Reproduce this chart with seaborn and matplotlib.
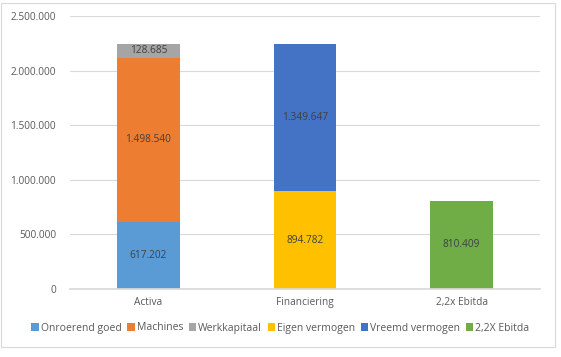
import matplotlib
matplotlib.use("Agg")
import matplotlib.pyplot as plt
import seaborn as sns
import numpy as np
import pandas as pd

categories = ["Activa", "Financiering", "2,2x Ebitda"]
series_names = ["Onroerend goed", "Machines", "Werkkapitaal", "Eigen vermogen", "Vreemd vermogen", "2,2X Ebitda"]
onroerend_goed = [617202, 0, 0]
machines = [1498540, 0, 0]
werkkapitaal = [128685, 0, 0]
eigen_vermogen = [0, 894782, 0]
vreemd_vermogen = [0, 1349647, 0]
ebitda = [0, 0, 810409]
colors = ["#5B9BD5", "#ED7D31", "#A5A5A5", "#FFC000", "#4472C4", "#70AD47"]
yticks = [0, 500000, 1000000, 1500000, 2000000, 2500000]

def fmt(v):
    return f"{int(v):,}".replace(",", ".")

sns.set_theme(style="white")
plt.rcParams['font.family'] = ['Open Sans', 'DejaVu Sans']

fig = plt.figure(figsize=(5.61, 3.57), dpi=100)
ax = fig.add_axes([70/561, 1-289/357, 470/561, 273/357])

all_series = [onroerend_goed, machines, werkkapitaal, eigen_vermogen, vreemd_vermogen, ebitda]
bottom = np.zeros(len(categories))
for name, vals, col in zip(series_names, all_series, colors):
    df = pd.DataFrame({"cat": categories, "val": vals})
    sns.barplot(data=df, x="cat", y="val", color=col, bottom=bottom, width=0.4,
                ax=ax, label=name, saturation=1, linewidth=0)
    for i, v in enumerate(vals):
        if v > 0:
            ax.text(i, bottom[i] + v/2, fmt(v), ha="center", va="center",
                    fontsize=7.3, color="#404040")
    bottom = bottom + np.array(vals)

handles, labels = ax.get_legend_handles_labels()
if ax.get_legend() is not None:
    ax.get_legend().remove()

ax.set_ylim(0, 2500000)
ax.set_yticks(yticks)
ax.set_yticklabels([fmt(t) for t in yticks], fontsize=7.3, color="#595959")
ax.set_xlabel("")
ax.set_ylabel("")
ax.tick_params(axis="x", labelsize=7.3, colors="#595959", length=0, pad=6)
ax.tick_params(axis="y", length=0, pad=10)
ax.yaxis.grid(True, color="#D9D9D9", linewidth=0.8)
ax.set_axisbelow(True)
for s in ["top", "right", "left"]:
    ax.spines[s].set_visible(False)
ax.spines["bottom"].set_color("#D9D9D9")

leg = fig.legend(handles, labels, loc="center", bbox_to_anchor=(0.5, 1-328/357), ncol=6,
                 frameon=False, fontsize=7.5, handlelength=0.7, handleheight=0.7,
                 handletextpad=0.2, columnspacing=0.55)
for t in leg.get_texts():
    t.set_color("#595959")

border = plt.Rectangle((1/561, 1-347/357), 554/561, 344/357, transform=fig.transFigure,
                       fill=False, edgecolor="#D9D9D9", linewidth=0.8)
fig.patches.append(border)

fig.savefig("out.png", dpi=100)
